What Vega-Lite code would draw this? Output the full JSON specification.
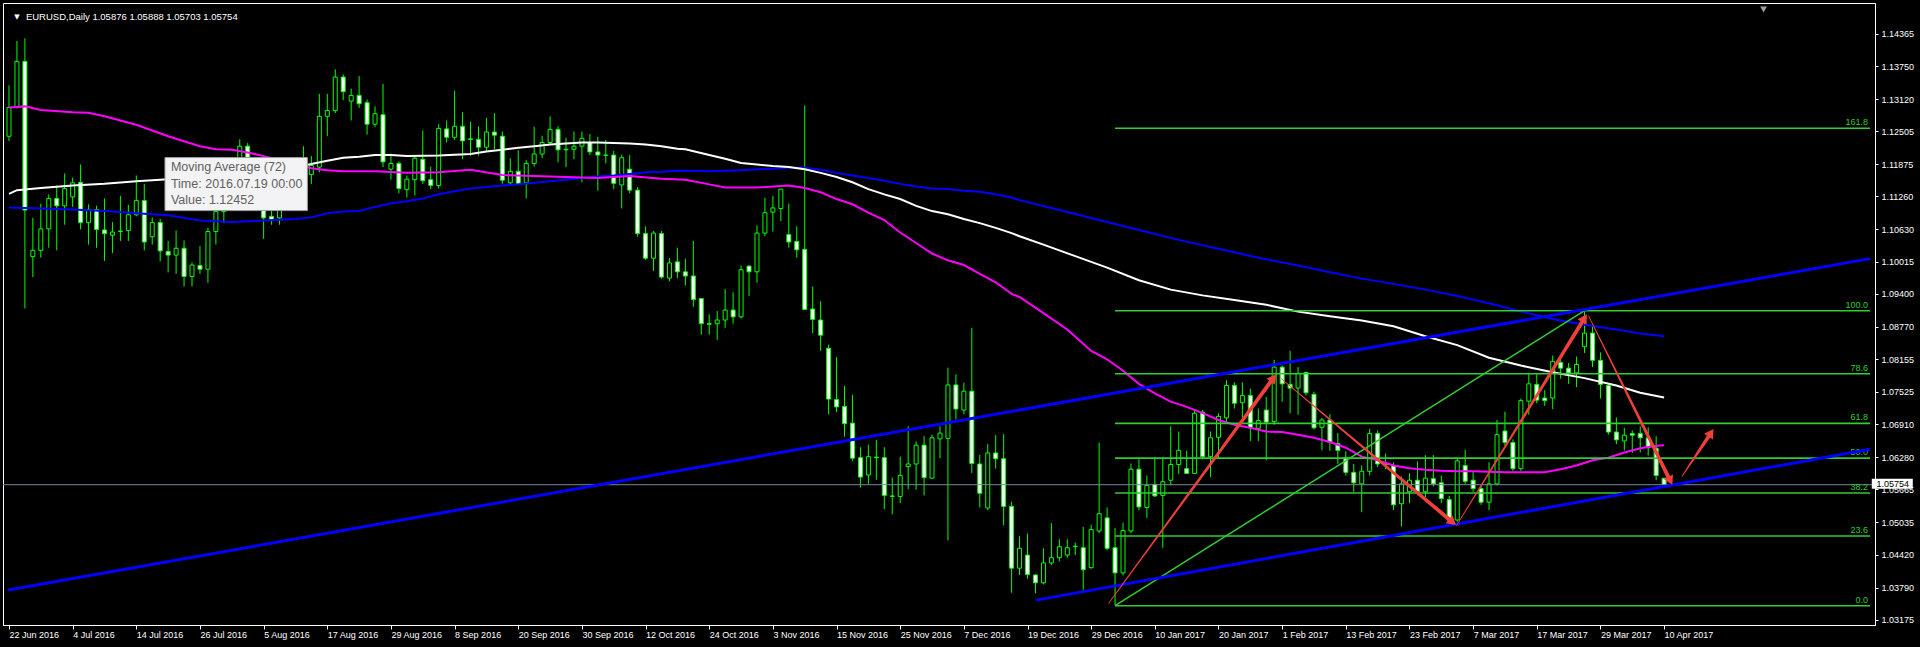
{
"$schema":"https://vega.github.io/schema/vega-lite/v6.json",
"width":1872,"height":622,
"autosize":{"type":"none"},
"padding":{"left":3,"top":3,"right":45,"bottom":22},
"background":"black",
"config":{"view":{"stroke":"white","strokeWidth":1},
 "axis":{"grid":false,"tickColor":"white","domainColor":"white","labelColor":"white","labelFont":"Liberation Sans","labelFontSize":9,"labelOverlap":false,"labelBound":false,"labelFlush":false,"titleOpacity":0},
 "axisX":{"labelAlign":"left","labelBaseline":"top","labelPadding":1,"labelDx":1,"tickSize":4},
 "axisY":{"tickSize":3,"labelPadding":3}},
"datasets":{
"candles":[
{"i":0,"o":1.1241,"h":1.1338,"l":1.1232,"c":1.1296},
{"i":1,"o":1.1296,"h":1.1423,"l":1.1294,"c":1.1384},
{"i":2,"o":1.1384,"h":1.1428,"l":1.0912,"c":1.1100},
{"i":3,"o":1.1011,"h":1.1085,"l":1.0972,"c":1.1023},
{"i":4,"o":1.1023,"h":1.1112,"l":1.1009,"c":1.1064},
{"i":5,"o":1.1064,"h":1.1130,"l":1.1028,"c":1.1122},
{"i":6,"o":1.1122,"h":1.1147,"l":1.1023,"c":1.1108},
{"i":7,"o":1.1108,"h":1.1170,"l":1.1072,"c":1.1141},
{"i":8,"o":1.1125,"h":1.1162,"l":1.1106,"c":1.1152},
{"i":9,"o":1.1153,"h":1.1187,"l":1.1063,"c":1.1076},
{"i":10,"o":1.1076,"h":1.1111,"l":1.1034,"c":1.1101},
{"i":11,"o":1.1101,"h":1.1108,"l":1.1028,"c":1.1063},
{"i":12,"o":1.1062,"h":1.1122,"l":1.1003,"c":1.1055},
{"i":13,"o":1.1052,"h":1.1077,"l":1.1018,"c":1.1058},
{"i":14,"o":1.1059,"h":1.1127,"l":1.1041,"c":1.1060},
{"i":15,"o":1.1061,"h":1.1110,"l":1.1041,"c":1.1091},
{"i":16,"o":1.1091,"h":1.1166,"l":1.1088,"c":1.1118},
{"i":17,"o":1.1118,"h":1.1150,"l":1.1023,"c":1.1039},
{"i":18,"o":1.1049,"h":1.1086,"l":1.1034,"c":1.1076},
{"i":19,"o":1.1076,"h":1.1083,"l":1.1002,"c":1.1022},
{"i":20,"o":1.1021,"h":1.1041,"l":1.0981,"c":1.1014},
{"i":21,"o":1.1014,"h":1.1061,"l":1.0978,"c":1.1027},
{"i":22,"o":1.1027,"h":1.1042,"l":1.0954,"c":1.0973},
{"i":23,"o":1.0973,"h":1.1000,"l":1.0954,"c":1.0995},
{"i":24,"o":1.0994,"h":1.1031,"l":1.0978,"c":1.0987},
{"i":25,"o":1.0987,"h":1.1066,"l":1.0961,"c":1.1059},
{"i":26,"o":1.1059,"h":1.1106,"l":1.1034,"c":1.1097},
{"i":27,"o":1.1097,"h":1.1185,"l":1.1075,"c":1.1174},
{"i":28,"o":1.1174,"h":1.1190,"l":1.1140,"c":1.1160},
{"i":29,"o":1.1160,"h":1.1235,"l":1.1150,"c":1.1222},
{"i":30,"o":1.1222,"h":1.1228,"l":1.1135,"c":1.1150},
{"i":31,"o":1.1150,"h":1.1165,"l":1.1110,"c":1.1130},
{"i":32,"o":1.1130,"h":1.1165,"l":1.1045,"c":1.1085},
{"i":33,"o":1.1088,"h":1.1110,"l":1.1072,"c":1.1081},
{"i":34,"o":1.1085,"h":1.1125,"l":1.1072,"c":1.1115},
{"i":35,"o":1.1115,"h":1.1185,"l":1.1105,"c":1.1175},
{"i":36,"o":1.1175,"h":1.1180,"l":1.1130,"c":1.1135},
{"i":37,"o":1.1135,"h":1.1222,"l":1.1120,"c":1.1160},
{"i":38,"o":1.1168,"h":1.1203,"l":1.1150,"c":1.1185},
{"i":39,"o":1.1182,"h":1.1322,"l":1.1172,"c":1.1279},
{"i":40,"o":1.1279,"h":1.1322,"l":1.1241,"c":1.1290},
{"i":41,"o":1.1290,"h":1.1369,"l":1.1285,"c":1.1354},
{"i":42,"o":1.1354,"h":1.1359,"l":1.1310,"c":1.1326},
{"i":43,"o":1.1308,"h":1.1332,"l":1.1271,"c":1.1319},
{"i":44,"o":1.1319,"h":1.1356,"l":1.1295,"c":1.1303},
{"i":45,"o":1.1305,"h":1.1311,"l":1.1244,"c":1.1264},
{"i":46,"o":1.1264,"h":1.1298,"l":1.1259,"c":1.1284},
{"i":47,"o":1.1282,"h":1.1341,"l":1.1182,"c":1.1192},
{"i":48,"o":1.1178,"h":1.1208,"l":1.1158,"c":1.1189},
{"i":49,"o":1.1189,"h":1.1193,"l":1.1132,"c":1.1141},
{"i":50,"o":1.1139,"h":1.1166,"l":1.1124,"c":1.1159},
{"i":51,"o":1.1158,"h":1.1205,"l":1.1128,"c":1.1199},
{"i":52,"o":1.1197,"h":1.1252,"l":1.1150,"c":1.1156},
{"i":53,"o":1.1158,"h":1.1183,"l":1.1140,"c":1.1147},
{"i":54,"o":1.1147,"h":1.1264,"l":1.1141,"c":1.1256},
{"i":55,"o":1.1255,"h":1.1271,"l":1.1229,"c":1.1239},
{"i":56,"o":1.1239,"h":1.1328,"l":1.1234,"c":1.1260},
{"i":57,"o":1.1260,"h":1.1287,"l":1.1197,"c":1.1232},
{"i":58,"o":1.1236,"h":1.1269,"l":1.1204,"c":1.1235},
{"i":59,"o":1.1235,"h":1.1260,"l":1.1204,"c":1.1220},
{"i":60,"o":1.1220,"h":1.1276,"l":1.1213,"c":1.1249},
{"i":61,"o":1.1249,"h":1.1285,"l":1.1216,"c":1.1243},
{"i":62,"o":1.1241,"h":1.1250,"l":1.1150,"c":1.1157},
{"i":63,"o":1.1152,"h":1.1199,"l":1.1147,"c":1.1174},
{"i":64,"o":1.1174,"h":1.1214,"l":1.1150,"c":1.1151},
{"i":65,"o":1.1152,"h":1.1196,"l":1.1122,"c":1.1189},
{"i":66,"o":1.1189,"h":1.1259,"l":1.1183,"c":1.1207},
{"i":67,"o":1.1207,"h":1.1242,"l":1.1199,"c":1.1229},
{"i":68,"o":1.1229,"h":1.1279,"l":1.1224,"c":1.1254},
{"i":69,"o":1.1254,"h":1.1260,"l":1.1191,"c":1.1215},
{"i":70,"o":1.1216,"h":1.1238,"l":1.1182,"c":1.1215},
{"i":71,"o":1.1216,"h":1.1250,"l":1.1197,"c":1.1222},
{"i":72,"o":1.1222,"h":1.1250,"l":1.1153,"c":1.1237},
{"i":73,"o":1.1229,"h":1.1245,"l":1.1205,"c":1.1211},
{"i":74,"o":1.1211,"h":1.1240,"l":1.1137,"c":1.1205},
{"i":75,"o":1.1205,"h":1.1234,"l":1.1189,"c":1.12045},
{"i":76,"o":1.1205,"h":1.1213,"l":1.1140,"c":1.1151},
{"i":77,"o":1.1148,"h":1.1206,"l":1.1103,"c":1.1200},
{"i":78,"o":1.1178,"h":1.1205,"l":1.1132,"c":1.1138},
{"i":79,"o":1.1138,"h":1.1144,"l":1.1049,"c":1.1055},
{"i":80,"o":1.1055,"h":1.1069,"l":1.1005,"c":1.1008},
{"i":81,"o":1.1008,"h":1.1060,"l":1.0984,"c":1.1056},
{"i":82,"o":1.1055,"h":1.1060,"l":1.0969,"c":1.0972},
{"i":83,"o":1.0970,"h":1.1008,"l":1.0964,"c":1.0999},
{"i":84,"o":1.1001,"h":1.1028,"l":1.0970,"c":1.0982},
{"i":85,"o":1.0982,"h":1.1007,"l":1.0956,"c":1.0974},
{"i":86,"o":1.0974,"h":1.1041,"l":1.0915,"c":1.0929},
{"i":87,"o":1.0931,"h":1.0931,"l":1.0862,"c":1.0883},
{"i":88,"o":1.0883,"h":1.0901,"l":1.0862,"c":1.0882},
{"i":89,"o":1.0883,"h":1.0907,"l":1.0852,"c":1.0890},
{"i":90,"o":1.0890,"h":1.0949,"l":1.0875,"c":1.0909},
{"i":91,"o":1.0909,"h":1.0943,"l":1.0883,"c":1.0896},
{"i":92,"o":1.0896,"h":1.0994,"l":1.0893,"c":1.0986},
{"i":93,"o":1.0993,"h":1.0994,"l":1.0936,"c":1.0982},
{"i":94,"o":1.0982,"h":1.1071,"l":1.0961,"c":1.1056},
{"i":95,"o":1.1056,"h":1.1123,"l":1.1050,"c":1.1095},
{"i":96,"o":1.1096,"h":1.1127,"l":1.1059,"c":1.1104},
{"i":97,"o":1.1103,"h":1.1140,"l":1.1079,"c":1.1140},
{"i":98,"o":1.1053,"h":1.1112,"l":1.1028,"c":1.1039},
{"i":99,"o":1.1040,"h":1.1069,"l":1.1009,"c":1.1024},
{"i":100,"o":1.1025,"h":1.1300,"l":1.0909,"c":1.0910},
{"i":101,"o":1.0911,"h":1.0954,"l":1.0865,"c":1.0891},
{"i":102,"o":1.0890,"h":1.0926,"l":1.0831,"c":1.0861},
{"i":103,"o":1.0836,"h":1.0843,"l":1.0710,"c":1.0739},
{"i":104,"o":1.0738,"h":1.0819,"l":1.0714,"c":1.0724},
{"i":105,"o":1.0725,"h":1.0764,"l":1.0667,"c":1.0692},
{"i":106,"o":1.0693,"h":1.0747,"l":1.0621,"c":1.0626},
{"i":107,"o":1.0627,"h":1.0647,"l":1.0570,"c":1.0590},
{"i":108,"o":1.0594,"h":1.0652,"l":1.0577,"c":1.0629},
{"i":109,"o":1.0628,"h":1.0661,"l":1.0585,"c":1.0627},
{"i":110,"o":1.0627,"h":1.0647,"l":1.0529,"c":1.0555},
{"i":111,"o":1.0553,"h":1.0589,"l":1.0519,"c":1.0554},
{"i":112,"o":1.0553,"h":1.0629,"l":1.0540,"c":1.0593},
{"i":113,"o":1.0610,"h":1.0687,"l":1.0567,"c":1.0615},
{"i":114,"o":1.0615,"h":1.0658,"l":1.0566,"c":1.0651},
{"i":115,"o":1.0651,"h":1.0668,"l":1.0555,"c":1.0589},
{"i":116,"o":1.0588,"h":1.0671,"l":1.0587,"c":1.0665},
{"i":117,"o":1.0663,"h":1.0687,"l":1.0626,"c":1.0674},
{"i":118,"o":1.0664,"h":1.0799,"l":1.0469,"c":1.0766},
{"i":119,"o":1.0766,"h":1.0786,"l":1.0700,"c":1.0720},
{"i":120,"o":1.0718,"h":1.0770,"l":1.0710,"c":1.0754},
{"i":121,"o":1.0754,"h":1.0875,"l":1.0598,"c":1.0616},
{"i":122,"o":1.0615,"h":1.0632,"l":1.0532,"c":1.0559},
{"i":123,"o":1.0531,"h":1.0653,"l":1.0527,"c":1.0636},
{"i":124,"o":1.0636,"h":1.0670,"l":1.0606,"c":1.0625},
{"i":125,"o":1.0625,"h":1.0672,"l":1.0498,"c":1.0534},
{"i":126,"o":1.0534,"h":1.0543,"l":1.0369,"c":1.0416},
{"i":127,"o":1.0416,"h":1.0477,"l":1.0403,"c":1.0454},
{"i":128,"o":1.0441,"h":1.0482,"l":1.0396,"c":1.0404},
{"i":129,"o":1.0403,"h":1.0404,"l":1.0368,"c":1.0388},
{"i":130,"o":1.0388,"h":1.0454,"l":1.0385,"c":1.0426},
{"i":131,"o":1.0426,"h":1.0502,"l":1.0422,"c":1.0436},
{"i":132,"o":1.0436,"h":1.0471,"l":1.0429,"c":1.0457},
{"i":133,"o":1.0441,"h":1.0471,"l":1.0436,"c":1.0455},
{"i":134,"o":1.0457,"h":1.0465,"l":1.0441,"c":1.0458},
{"i":135,"o":1.0455,"h":1.0495,"l":1.0375,"c":1.0413},
{"i":136,"o":1.0417,"h":1.0499,"l":1.0415,"c":1.0490},
{"i":137,"o":1.0487,"h":1.0656,"l":1.0483,"c":1.0520},
{"i":138,"o":1.0512,"h":1.0532,"l":1.0450,"c":1.0454},
{"i":139,"o":1.0455,"h":1.0493,"l":1.0345,"c":1.0407},
{"i":140,"o":1.0407,"h":1.0503,"l":1.0402,"c":1.0488},
{"i":141,"o":1.0487,"h":1.0616,"l":1.0483,"c":1.0605},
{"i":142,"o":1.0605,"h":1.0624,"l":1.0527,"c":1.0533},
{"i":143,"o":1.0532,"h":1.0593,"l":1.0512,"c":1.0574},
{"i":144,"o":1.0576,"h":1.0627,"l":1.0552,"c":1.0554},
{"i":145,"o":1.0555,"h":1.0627,"l":1.0455,"c":1.0581},
{"i":146,"o":1.0584,"h":1.0687,"l":1.0574,"c":1.0614},
{"i":147,"o":1.0614,"h":1.0677,"l":1.0596,"c":1.0641},
{"i":148,"o":1.0606,"h":1.0640,"l":1.0596,"c":1.0597},
{"i":149,"o":1.0597,"h":1.0720,"l":1.0596,"c":1.0712},
{"i":150,"o":1.0714,"h":1.0718,"l":1.0624,"c":1.0629},
{"i":151,"o":1.0629,"h":1.0677,"l":1.0590,"c":1.0665},
{"i":152,"o":1.0666,"h":1.0712,"l":1.0627,"c":1.0706},
{"i":153,"o":1.0703,"h":1.0775,"l":1.0696,"c":1.0765},
{"i":154,"o":1.0765,"h":1.0771,"l":1.0721,"c":1.0731},
{"i":155,"o":1.0732,"h":1.0771,"l":1.0703,"c":1.0746},
{"i":156,"o":1.0746,"h":1.0759,"l":1.0659,"c":1.0684},
{"i":157,"o":1.0683,"h":1.0721,"l":1.0659,"c":1.0698},
{"i":158,"o":1.0718,"h":1.0743,"l":1.0622,"c":1.0695},
{"i":159,"o":1.0696,"h":1.0814,"l":1.0690,"c":1.0800},
{"i":160,"o":1.0800,"h":1.0803,"l":1.0734,"c":1.0768},
{"i":161,"o":1.0767,"h":1.0831,"l":1.0712,"c":1.0760},
{"i":162,"o":1.0760,"h":1.0800,"l":1.0709,"c":1.0788},
{"i":163,"o":1.0790,"h":1.0791,"l":1.0746,"c":1.0751},
{"i":164,"o":1.0748,"h":1.0753,"l":1.0681,"c":1.0684},
{"i":165,"o":1.0685,"h":1.0703,"l":1.0641,"c":1.0699},
{"i":166,"o":1.0699,"h":1.0710,"l":1.0640,"c":1.0656},
{"i":167,"o":1.0654,"h":1.0674,"l":1.0615,"c":1.0641},
{"i":168,"o":1.0627,"h":1.0639,"l":1.0593,"c":1.0599},
{"i":169,"o":1.0599,"h":1.0615,"l":1.0562,"c":1.0579},
{"i":170,"o":1.0577,"h":1.0612,"l":1.0523,"c":1.0601},
{"i":171,"o":1.0601,"h":1.0682,"l":1.0593,"c":1.0673},
{"i":172,"o":1.0673,"h":1.0679,"l":1.0609,"c":1.0615},
{"i":173,"o":1.0615,"h":1.0635,"l":1.0605,"c":1.0614},
{"i":174,"o":1.0612,"h":1.0618,"l":1.0527,"c":1.0537},
{"i":175,"o":1.0539,"h":1.0591,"l":1.0496,"c":1.0577},
{"i":176,"o":1.0562,"h":1.0597,"l":1.0540,"c":1.0584},
{"i":177,"o":1.0584,"h":1.0620,"l":1.0555,"c":1.0562},
{"i":178,"o":1.0562,"h":1.0632,"l":1.0552,"c":1.0588},
{"i":179,"o":1.0587,"h":1.0632,"l":1.0572,"c":1.0577},
{"i":180,"o":1.0579,"h":1.0593,"l":1.0540,"c":1.0549},
{"i":181,"o":1.0547,"h":1.0554,"l":1.0502,"c":1.0508},
{"i":182,"o":1.0508,"h":1.0626,"l":1.0505,"c":1.0621},
{"i":183,"o":1.0612,"h":1.0642,"l":1.0577,"c":1.0582},
{"i":184,"o":1.0584,"h":1.0600,"l":1.0562,"c":1.0568},
{"i":185,"o":1.0568,"h":1.0574,"l":1.0537,"c":1.0542},
{"i":186,"o":1.0542,"h":1.0618,"l":1.0527,"c":1.0577},
{"i":187,"o":1.0577,"h":1.0699,"l":1.0574,"c":1.0671},
{"i":188,"o":1.0678,"h":1.0715,"l":1.0650,"c":1.0656},
{"i":189,"o":1.0656,"h":1.0662,"l":1.0602,"c":1.0606},
{"i":190,"o":1.0606,"h":1.0740,"l":1.0602,"c":1.0736},
{"i":191,"o":1.0735,"h":1.0787,"l":1.0709,"c":1.0768},
{"i":192,"o":1.0767,"h":1.0787,"l":1.0731,"c":1.0737},
{"i":193,"o":1.0741,"h":1.0756,"l":1.0726,"c":1.0736},
{"i":194,"o":1.0741,"h":1.0822,"l":1.0720,"c":1.0811},
{"i":195,"o":1.0809,"h":1.0814,"l":1.0778,"c":1.0798},
{"i":196,"o":1.0798,"h":1.0808,"l":1.0768,"c":1.0789},
{"i":197,"o":1.0789,"h":1.0820,"l":1.0762,"c":1.0805},
{"i":198,"o":1.0839,"h":1.0906,"l":1.0827,"c":1.0865},
{"i":199,"o":1.0865,"h":1.0877,"l":1.0800,"c":1.0813},
{"i":200,"o":1.0813,"h":1.0828,"l":1.0740,"c":1.0767},
{"i":201,"o":1.0765,"h":1.0767,"l":1.0671,"c":1.0676},
{"i":202,"o":1.0676,"h":1.0704,"l":1.0653,"c":1.0661},
{"i":203,"o":1.0659,"h":1.0684,"l":1.0641,"c":1.0670},
{"i":204,"o":1.0673,"h":1.0679,"l":1.0636,"c":1.0670},
{"i":205,"o":1.0673,"h":1.0687,"l":1.0637,"c":1.0665},
{"i":206,"o":1.0665,"h":1.0685,"l":1.0631,"c":1.0646},
{"i":207,"o":1.0645,"h":1.0668,"l":1.0584,"c":1.0593},
{"i":208,"o":1.05876,"h":1.05888,"l":1.05703,"c":1.05754}
],
"ma":[
{"s":"ma3","i":0,"p":1.1105},{"s":"ma3","i":4,"p":1.1103},{"s":"ma3","i":8,"p":1.1101},{"s":"ma3","i":12,"p":1.1098},{"s":"ma3","i":16,"p":1.1094},{"s":"ma3","i":20,"p":1.1090},{"s":"ma3","i":24,"p":1.1080},{"s":"ma3","i":28,"p":1.1077},{"s":"ma3","i":32,"p":1.1080},{"s":"ma3","i":36,"p":1.1083},{"s":"ma3","i":38,"p":1.1086},{"s":"ma3","i":40,"p":1.1094},{"s":"ma3","i":42,"p":1.1097},{"s":"ma3","i":44,"p":1.1098},{"s":"ma3","i":46,"p":1.1106},{"s":"ma3","i":48,"p":1.1113},{"s":"ma3","i":50,"p":1.1117},{"s":"ma3","i":52,"p":1.1122},{"s":"ma3","i":54,"p":1.1130},{"s":"ma3","i":56,"p":1.1136},{"s":"ma3","i":58,"p":1.1141},{"s":"ma3","i":60,"p":1.1144},{"s":"ma3","i":62,"p":1.1147},{"s":"ma3","i":64,"p":1.1149},{"s":"ma3","i":66,"p":1.1152},{"s":"ma3","i":68,"p":1.1155},{"s":"ma3","i":70,"p":1.1158},{"s":"ma3","i":72,"p":1.1161},{"s":"ma3","i":74,"p":1.1164},{"s":"ma3","i":76,"p":1.1166},{"s":"ma3","i":78,"p":1.1169},{"s":"ma3","i":80,"p":1.1172},{"s":"ma3","i":82,"p":1.1173},{"s":"ma3","i":84,"p":1.1175},{"s":"ma3","i":88,"p":1.1174},{"s":"ma3","i":92,"p":1.1176},{"s":"ma3","i":96,"p":1.1179},{"s":"ma3","i":98,"p":1.1181},{"s":"ma3","i":100,"p":1.1181},{"s":"ma3","i":102,"p":1.1177},{"s":"ma3","i":104,"p":1.1171},{"s":"ma3","i":106,"p":1.1166},{"s":"ma3","i":108,"p":1.1161},{"s":"ma3","i":110,"p":1.1156},{"s":"ma3","i":112,"p":1.1150},{"s":"ma3","i":114,"p":1.1145},{"s":"ma3","i":116,"p":1.1141},{"s":"ma3","i":118,"p":1.1140},{"s":"ma3","i":120,"p":1.1137},{"s":"ma3","i":122,"p":1.1135},{"s":"ma3","i":124,"p":1.1130},{"s":"ma3","i":126,"p":1.1124},{"s":"ma3","i":127,"p":1.1119},{"s":"ma3","i":132,"p":1.1100},{"s":"ma3","i":137,"p":1.1081},{"s":"ma3","i":142,"p":1.1062},{"s":"ma3","i":147,"p":1.1043},{"s":"ma3","i":152,"p":1.1026},{"s":"ma3","i":157,"p":1.1009},{"s":"ma3","i":162,"p":1.0994},{"s":"ma3","i":166,"p":1.0981},{"s":"ma3","i":170,"p":1.0969},{"s":"ma3","i":174,"p":1.0959},{"s":"ma3","i":178,"p":1.0948},{"s":"ma3","i":182,"p":1.0936},{"s":"ma3","i":186,"p":1.0922},{"s":"ma3","i":190,"p":1.0906},{"s":"ma3","i":194,"p":1.0892},{"s":"ma3","i":198,"p":1.0881},{"s":"ma3","i":202,"p":1.0872},{"s":"ma3","i":205,"p":1.0864},{"s":"ma3","i":208,"p":1.0859},
{"s":"ma2","i":0,"p":1.1131},{"s":"ma2","i":1,"p":1.1138},{"s":"ma2","i":4,"p":1.1142},{"s":"ma2","i":8,"p":1.1147},{"s":"ma2","i":12,"p":1.1150},{"s":"ma2","i":16,"p":1.1155},{"s":"ma2","i":19,"p":1.1158},{"s":"ma2","i":24,"p":1.1163},{"s":"ma2","i":28,"p":1.1168},{"s":"ma2","i":32,"p":1.1175},{"s":"ma2","i":36,"p":1.1182},{"s":"ma2","i":38,"p":1.1188},{"s":"ma2","i":40,"p":1.1194},{"s":"ma2","i":42,"p":1.1200},{"s":"ma2","i":44,"p":1.1202},{"s":"ma2","i":46,"p":1.1205},{"s":"ma2","i":48,"p":1.1205},{"s":"ma2","i":50,"p":1.1203},{"s":"ma2","i":54,"p":1.1204},{"s":"ma2","i":58,"p":1.1207},{"s":"ma2","i":60,"p":1.1212},{"s":"ma2","i":62,"p":1.1215},{"s":"ma2","i":64,"p":1.1219},{"s":"ma2","i":66,"p":1.1222},{"s":"ma2","i":68,"p":1.1225},{"s":"ma2","i":70,"p":1.1227},{"s":"ma2","i":72,"p":1.1229},{"s":"ma2","i":74,"p":1.1229},{"s":"ma2","i":76,"p":1.1228},{"s":"ma2","i":78,"p":1.1227},{"s":"ma2","i":80,"p":1.1225},{"s":"ma2","i":82,"p":1.1222},{"s":"ma2","i":84,"p":1.1217},{"s":"ma2","i":85,"p":1.1216},{"s":"ma2","i":88,"p":1.1205},{"s":"ma2","i":90,"p":1.1198},{"s":"ma2","i":92,"p":1.1190},{"s":"ma2","i":94,"p":1.1187},{"s":"ma2","i":96,"p":1.1184},{"s":"ma2","i":98,"p":1.1182},{"s":"ma2","i":100,"p":1.1178},{"s":"ma2","i":102,"p":1.1171},{"s":"ma2","i":104,"p":1.1163},{"s":"ma2","i":106,"p":1.1153},{"s":"ma2","i":108,"p":1.1140},{"s":"ma2","i":110,"p":1.1130},{"s":"ma2","i":112,"p":1.1121},{"s":"ma2","i":114,"p":1.1108},{"s":"ma2","i":116,"p":1.1098},{"s":"ma2","i":118,"p":1.1092},{"s":"ma2","i":120,"p":1.1083},{"s":"ma2","i":122,"p":1.1075},{"s":"ma2","i":124,"p":1.1066},{"s":"ma2","i":126,"p":1.1056},{"s":"ma2","i":127,"p":1.1050},{"s":"ma2","i":130,"p":1.1034},{"s":"ma2","i":134,"p":1.1012},{"s":"ma2","i":138,"p":1.0990},{"s":"ma2","i":142,"p":1.0966},{"s":"ma2","i":146,"p":1.0948},{"s":"ma2","i":150,"p":1.0937},{"s":"ma2","i":154,"p":1.0928},{"s":"ma2","i":158,"p":1.0919},{"s":"ma2","i":162,"p":1.0906},{"s":"ma2","i":166,"p":1.0897},{"s":"ma2","i":170,"p":1.0889},{"s":"ma2","i":174,"p":1.0878},{"s":"ma2","i":178,"p":1.0859},{"s":"ma2","i":182,"p":1.0842},{"s":"ma2","i":186,"p":1.0818},{"s":"ma2","i":190,"p":1.0803},{"s":"ma2","i":194,"p":1.0790},{"s":"ma2","i":198,"p":1.0779},{"s":"ma2","i":202,"p":1.0765},{"s":"ma2","i":205,"p":1.0751},{"s":"ma2","i":208,"p":1.0742},
{"s":"ma1","i":0,"p":1.1296},{"s":"ma1","i":2,"p":1.1298},{"s":"ma1","i":4,"p":1.1291},{"s":"ma1","i":8,"p":1.1287},{"s":"ma1","i":10,"p":1.1286},{"s":"ma1","i":12,"p":1.1279},{"s":"ma1","i":16,"p":1.1263},{"s":"ma1","i":20,"p":1.1241},{"s":"ma1","i":24,"p":1.1222},{"s":"ma1","i":26,"p":1.1216},{"s":"ma1","i":28,"p":1.1215},{"s":"ma1","i":30,"p":1.1210},{"s":"ma1","i":32,"p":1.1203},{"s":"ma1","i":36,"p":1.1188},{"s":"ma1","i":38,"p":1.1180},{"s":"ma1","i":40,"p":1.1176},{"s":"ma1","i":42,"p":1.1174},{"s":"ma1","i":46,"p":1.1174},{"s":"ma1","i":50,"p":1.1171},{"s":"ma1","i":54,"p":1.1172},{"s":"ma1","i":58,"p":1.1177},{"s":"ma1","i":62,"p":1.1167},{"s":"ma1","i":66,"p":1.1165},{"s":"ma1","i":70,"p":1.1163},{"s":"ma1","i":74,"p":1.1161},{"s":"ma1","i":78,"p":1.1165},{"s":"ma1","i":82,"p":1.1160},{"s":"ma1","i":85,"p":1.1158},{"s":"ma1","i":88,"p":1.1149},{"s":"ma1","i":90,"p":1.1143},{"s":"ma1","i":94,"p":1.1143},{"s":"ma1","i":98,"p":1.1147},{"s":"ma1","i":100,"p":1.1142},{"s":"ma1","i":102,"p":1.1134},{"s":"ma1","i":104,"p":1.1121},{"s":"ma1","i":106,"p":1.1111},{"s":"ma1","i":108,"p":1.1095},{"s":"ma1","i":110,"p":1.1081},{"s":"ma1","i":112,"p":1.1057},{"s":"ma1","i":114,"p":1.1037},{"s":"ma1","i":116,"p":1.1017},{"s":"ma1","i":118,"p":1.1004},{"s":"ma1","i":120,"p":1.0995},{"s":"ma1","i":122,"p":1.0978},{"s":"ma1","i":124,"p":1.0962},{"s":"ma1","i":126,"p":1.0940},{"s":"ma1","i":127,"p":1.0934},{"s":"ma1","i":130,"p":1.0903},{"s":"ma1","i":133,"p":1.0872},{"s":"ma1","i":136,"p":1.0831},{"s":"ma1","i":138,"p":1.0815},{"s":"ma1","i":140,"p":1.0793},{"s":"ma1","i":142,"p":1.0768},{"s":"ma1","i":144,"p":1.0750},{"s":"ma1","i":146,"p":1.0734},{"s":"ma1","i":148,"p":1.0724},{"s":"ma1","i":150,"p":1.0712},{"s":"ma1","i":152,"p":1.0699},{"s":"ma1","i":154,"p":1.0690},{"s":"ma1","i":156,"p":1.0684},{"s":"ma1","i":158,"p":1.0677},{"s":"ma1","i":160,"p":1.0676},{"s":"ma1","i":162,"p":1.0671},{"s":"ma1","i":164,"p":1.0665},{"s":"ma1","i":166,"p":1.0657},{"s":"ma1","i":168,"p":1.0646},{"s":"ma1","i":170,"p":1.0629},{"s":"ma1","i":172,"p":1.0622},{"s":"ma1","i":174,"p":1.0612},{"s":"ma1","i":176,"p":1.0607},{"s":"ma1","i":178,"p":1.0604},{"s":"ma1","i":180,"p":1.0602},{"s":"ma1","i":182,"p":1.0601},{"s":"ma1","i":184,"p":1.0601},{"s":"ma1","i":186,"p":1.0600},{"s":"ma1","i":188,"p":1.0599},{"s":"ma1","i":190,"p":1.0599},{"s":"ma1","i":193,"p":1.0599},{"s":"ma1","i":195,"p":1.0605},{"s":"ma1","i":197,"p":1.0612},{"s":"ma1","i":199,"p":1.0622},{"s":"ma1","i":201,"p":1.0627},{"s":"ma1","i":203,"p":1.0637},{"s":"ma1","i":205,"p":1.0645},{"s":"ma1","i":207,"p":1.0650},{"s":"ma1","i":208,"p":1.0651}
],
"fib":[
{"lvl":"0.0","p":1.03443,"i0":139,"i1":233.875},
{"lvl":"23.6","p":1.04773,"i0":139,"i1":233.875},
{"lvl":"38.2","p":1.05596,"i0":139,"i1":233.875},
{"lvl":"50.0","p":1.06261,"i0":139,"i1":233.875},
{"lvl":"61.8","p":1.06925,"i0":139,"i1":233.875},
{"lvl":"78.6","p":1.07872,"i0":139,"i1":233.875},
{"lvl":"100.0","p":1.09078,"i0":139,"i1":233.875},
{"lvl":"161.8","p":1.12561,"i0":139,"i1":233.875}
],
"fibdiag":[{"i0":139,"p0":1.03443,"i1":198,"p1":1.09078}],
"trend":[
{"i0":-0.125,"p0":1.03742,"i1":233.875,"p1":1.10072},
{"i0":129.1,"p0":1.0355,"i1":233.875,"p1":1.0643}
],
"arrows":[
{"a":1,"end":0,"i":138.2,"p":1.03488,"dir":35.9},{"a":1,"end":1,"i":158.9,"p":1.07792,"dir":35.9},
{"a":2,"end":0,"i":159.9,"p":1.07777,"dir":130.2},{"a":2,"end":1,"i":181.4,"p":1.0504,"dir":130.2},
{"a":3,"end":0,"i":181.9,"p":1.04972,"dir":31.4},{"a":3,"end":1,"i":197.99,"p":1.08934,"dir":31.4},
{"a":4,"end":0,"i":198.5,"p":1.08979,"dir":153.8},{"a":4,"end":1,"i":208.78,"p":1.05829,"dir":153.8},
{"a":5,"end":0,"i":210.25,"p":1.05917,"dir":33.5},{"a":5,"end":1,"i":213.9,"p":1.06744,"dir":33.5}
],
"tipbox":[{"i0":19.6,"i1":37.5,"p0":1.12003,"p1":1.10989}],
"tiptext":[
{"i":20.35,"p":1.11815,"t":"Moving Average (72)"},
{"i":20.35,"p":1.11502,"t":"Time: 2016.07.19 00:00"},
{"i":20.35,"p":1.1119,"t":"Value: 1.12452"}
],
"title":[{"i":2.125,"p":1.14696,"t":"EURUSD,Daily  1.05876 1.05888 1.05703 1.05754"}],
"titlemark":[{"i":1.0,"p":1.14696,"t":"▼"}],
"shift":[{"i":220.5,"p":1.1483}],
"bid":[{"p":1.05754,"i0":234.1,"i1":239.25,"ti":234.7,"t":"1.05754"}]
},
"layer":[
{"data":{"name":"candles"},
 "mark":{"type":"rule","color":"#00ff00","strokeWidth":1},
 "encoding":{
  "x":{"field":"i","type":"quantitative","scale":{"domain":[-0.125,233.875],"nice":false,"zero":false},
   "axis":{"values":[0,8,16,24,32,40,48,56,64,72,80,88,96,104,112,120,128,136,144,152,160,168,176,184,192,200,208],
    "labelExpr":"['22 Jun 2016','4 Jul 2016','14 Jul 2016','26 Jul 2016','5 Aug 2016','17 Aug 2016','29 Aug 2016','8 Sep 2016','20 Sep 2016','30 Sep 2016','12 Oct 2016','24 Oct 2016','3 Nov 2016','15 Nov 2016','25 Nov 2016','7 Dec 2016','19 Dec 2016','29 Dec 2016','10 Jan 2017','20 Jan 2017','1 Feb 2017','13 Feb 2017','23 Feb 2017','7 Mar 2017','17 Mar 2017','29 Mar 2017','10 Apr 2017'][round(datum.value/8)]",
    "tickCount":100,"title":null,"grid":false,"labelAlign":"left","labelBaseline":"top","labelPadding":1,"labelDx":1,"tickSize":4,"labelOverlap":false,"labelBound":false,"labelFlush":false}},
  "y":{"field":"l","type":"quantitative","scale":{"domain":[1.0317,1.14859],"nice":false,"zero":false},
   "axis":{"orient":"right","values":[1.14365,1.1375,1.1312,1.12505,1.11875,1.1126,1.1063,1.10015,1.094,1.0877,1.08155,1.07525,1.0691,1.0628,1.05665,1.05035,1.0442,1.0379,1.03175],
    "tickCount":100,"format":".5f","title":null,"grid":false,"tickSize":3,"labelPadding":3,"labelOverlap":false,"labelBound":false,"labelFlush":false}},
  "y2":{"field":"h"}
 }},
{"data":{"name":"candles"},
 "mark":{"type":"bar","size":4,"stroke":"#00ff00","strokeWidth":1},
 "encoding":{
  "x":{"field":"i","type":"quantitative","scale":{"domain":[-0.125,233.875],"nice":false,"zero":false},"axis":{"title":null,"labelOverlap":false}},
  "y":{"field":"o","type":"quantitative","scale":{"domain":[1.0317,1.14859],"nice":false,"zero":false},"axis":{"title":null,"labelOverlap":false}},
  "y2":{"field":"c"},
  "fill":{"condition":{"test":"datum.c < datum.o","value":"#ffffff"},"value":"#000000"}
 }},
{"data":{"name":"ma"},
 "mark":{"type":"line","strokeWidth":2},
 "encoding":{
  "x":{"field":"i","type":"quantitative","scale":{"domain":[-0.125,233.875],"nice":false,"zero":false},"axis":{"title":null,"labelOverlap":false}},
  "y":{"field":"p","type":"quantitative","scale":{"domain":[1.0317,1.14859],"nice":false,"zero":false},"axis":{"title":null,"labelOverlap":false}},
  "color":{"field":"s","type":"nominal","scale":{"domain":["ma1","ma2","ma3"],"range":["#ff00ff","#ffffff","#0000ff"]},"legend":null}
 }},
{"data":{"name":"bid"},
 "mark":{"type":"rule","color":"#778899","strokeWidth":1},
 "encoding":{
  "y":{"field":"p","type":"quantitative","scale":{"domain":[1.0317,1.14859],"nice":false,"zero":false},"axis":{"title":null,"labelOverlap":false}}
 }},
{"data":{"name":"fib"},
 "mark":{"type":"rule","color":"#32cd32","strokeWidth":1.6},
 "encoding":{
  "x":{"field":"i0","type":"quantitative","scale":{"domain":[-0.125,233.875],"nice":false,"zero":false},"axis":{"title":null,"labelOverlap":false}},
  "x2":{"field":"i1"},
  "y":{"field":"p","type":"quantitative","scale":{"domain":[1.0317,1.14859],"nice":false,"zero":false},"axis":{"title":null,"labelOverlap":false}}
 }},
{"data":{"name":"fibdiag"},
 "mark":{"type":"rule","color":"#32cd32","strokeWidth":1.5},
 "encoding":{
  "x":{"field":"i0","type":"quantitative","scale":{"domain":[-0.125,233.875],"nice":false,"zero":false},"axis":{"title":null,"labelOverlap":false}},
  "x2":{"field":"i1"},
  "y":{"field":"p0","type":"quantitative","scale":{"domain":[1.0317,1.14859],"nice":false,"zero":false},"axis":{"title":null,"labelOverlap":false}},
  "y2":{"field":"p1"}
 }},
{"data":{"name":"fib"},
 "mark":{"type":"text","color":"#32cd32","font":"Liberation Sans","fontSize":9,"align":"right","baseline":"bottom","dx":-2,"dy":-1},
 "encoding":{
  "x":{"field":"i1","type":"quantitative","scale":{"domain":[-0.125,233.875],"nice":false,"zero":false},"axis":{"title":null,"labelOverlap":false}},
  "y":{"field":"p","type":"quantitative","scale":{"domain":[1.0317,1.14859],"nice":false,"zero":false},"axis":{"title":null,"labelOverlap":false}},
  "text":{"field":"lvl"}
 }},
{"data":{"name":"trend"},
 "mark":{"type":"rule","color":"#0000ff","strokeWidth":3},
 "encoding":{
  "x":{"field":"i0","type":"quantitative","scale":{"domain":[-0.125,233.875],"nice":false,"zero":false},"axis":{"title":null,"labelOverlap":false}},
  "x2":{"field":"i1"},
  "y":{"field":"p0","type":"quantitative","scale":{"domain":[1.0317,1.14859],"nice":false,"zero":false},"axis":{"title":null,"labelOverlap":false}},
  "y2":{"field":"p1"}
 }},
{"data":{"name":"arrows"},
 "mark":{"type":"trail","color":"#f0403a"},
 "encoding":{
  "x":{"field":"i","type":"quantitative","scale":{"domain":[-0.125,233.875],"nice":false,"zero":false},"axis":{"title":null,"labelOverlap":false}},
  "y":{"field":"p","type":"quantitative","scale":{"domain":[1.0317,1.14859],"nice":false,"zero":false},"axis":{"title":null,"labelOverlap":false}},
  "detail":{"field":"a","type":"nominal"},
  "order":{"field":"end","type":"quantitative"},
  "size":{"field":"end","type":"quantitative","scale":{"domain":[0,1],"range":[0.8,4]},"legend":null}
 }},
{"data":{"name":"arrows"},
 "transform":[{"filter":"datum.end == 1"}],
 "mark":{"type":"point","shape":"triangle-up","filled":true,"color":"#f0403a","size":110,"opacity":1},
 "encoding":{
  "x":{"field":"i","type":"quantitative","scale":{"domain":[-0.125,233.875],"nice":false,"zero":false},"axis":{"title":null,"labelOverlap":false}},
  "y":{"field":"p","type":"quantitative","scale":{"domain":[1.0317,1.14859],"nice":false,"zero":false},"axis":{"title":null,"labelOverlap":false}},
  "angle":{"field":"dir","type":"quantitative","scale":null}
 }},
{"data":{"name":"tipbox"},
 "mark":{"type":"rect","fill":"#f3f3f5","stroke":"#9a9aa2","strokeWidth":1},
 "encoding":{
  "x":{"field":"i0","type":"quantitative","scale":{"domain":[-0.125,233.875],"nice":false,"zero":false},"axis":{"title":null,"labelOverlap":false}},
  "x2":{"field":"i1"},
  "y":{"field":"p0","type":"quantitative","scale":{"domain":[1.0317,1.14859],"nice":false,"zero":false},"axis":{"title":null,"labelOverlap":false}},
  "y2":{"field":"p1"}
 }},
{"data":{"name":"tiptext"},
 "mark":{"type":"text","color":"#606060","font":"Liberation Sans","fontSize":12.5,"align":"left","baseline":"middle"},
 "encoding":{
  "x":{"field":"i","type":"quantitative","scale":{"domain":[-0.125,233.875],"nice":false,"zero":false},"axis":{"title":null,"labelOverlap":false}},
  "y":{"field":"p","type":"quantitative","scale":{"domain":[1.0317,1.14859],"nice":false,"zero":false},"axis":{"title":null,"labelOverlap":false}},
  "text":{"field":"t"}
 }},
{"data":{"name":"title"},
 "mark":{"type":"text","color":"#ffffff","font":"Liberation Sans","fontSize":9.5,"align":"left","baseline":"middle"},
 "encoding":{
  "x":{"field":"i","type":"quantitative","scale":{"domain":[-0.125,233.875],"nice":false,"zero":false},"axis":{"title":null,"labelOverlap":false}},
  "y":{"field":"p","type":"quantitative","scale":{"domain":[1.0317,1.14859],"nice":false,"zero":false},"axis":{"title":null,"labelOverlap":false}},
  "text":{"field":"t"}
 }},
{"data":{"name":"titlemark"},
 "mark":{"type":"text","color":"#ffffff","font":"DejaVu Sans","fontSize":7,"align":"center","baseline":"middle"},
 "encoding":{
  "x":{"field":"i","type":"quantitative","scale":{"domain":[-0.125,233.875],"nice":false,"zero":false},"axis":{"title":null,"labelOverlap":false}},
  "y":{"field":"p","type":"quantitative","scale":{"domain":[1.0317,1.14859],"nice":false,"zero":false},"axis":{"title":null,"labelOverlap":false}},
  "text":{"field":"t"}
 }},
{"data":{"name":"shift"},
 "mark":{"type":"point","shape":"triangle-down","filled":true,"color":"#a0a0a0","size":45,"opacity":1},
 "encoding":{
  "x":{"field":"i","type":"quantitative","scale":{"domain":[-0.125,233.875],"nice":false,"zero":false},"axis":{"title":null,"labelOverlap":false}},
  "y":{"field":"p","type":"quantitative","scale":{"domain":[1.0317,1.14859],"nice":false,"zero":false},"axis":{"title":null,"labelOverlap":false}}
 }},
{"data":{"name":"bid"},
 "mark":{"type":"bar","size":10,"color":"#ffffff","orient":"horizontal","yOffset":-1},
 "encoding":{
  "x":{"field":"i0","type":"quantitative","scale":{"domain":[-0.125,233.875],"nice":false,"zero":false},"axis":{"title":null,"labelOverlap":false}},
  "x2":{"field":"i1"},
  "y":{"field":"p","type":"quantitative","scale":{"domain":[1.0317,1.14859],"nice":false,"zero":false},"axis":{"title":null,"labelOverlap":false}}
 }},
{"data":{"name":"bid"},
 "mark":{"type":"text","color":"#000000","font":"Liberation Sans","fontSize":9,"align":"left","baseline":"middle","dy":-1},
 "encoding":{
  "x":{"field":"ti","type":"quantitative","scale":{"domain":[-0.125,233.875],"nice":false,"zero":false},"axis":{"title":null,"labelOverlap":false}},
  "y":{"field":"p","type":"quantitative","scale":{"domain":[1.0317,1.14859],"nice":false,"zero":false},"axis":{"title":null,"labelOverlap":false}},
  "text":{"field":"t"}
 }}
]
}
